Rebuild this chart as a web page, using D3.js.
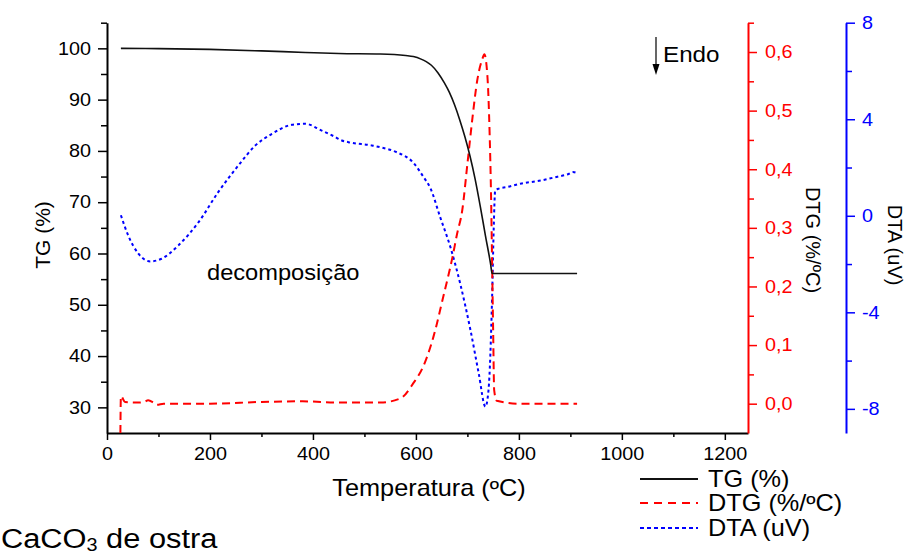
<!DOCTYPE html>
<html>
<head>
<meta charset="utf-8">
<script src="https://cdn.jsdelivr.net/npm/d3@7"></script>
<style>
  body { margin: 0; background: #fff; }
  svg { font-family: "Liberation Sans", Arial, sans-serif; }
</style>
</head>
<body>
<svg></svg>
<script>
const width = 909;
const height = 558;

// TG (%) vs temperature
const tgTemp = [27, 100, 200, 300, 385, 450, 531, 580, 595, 610, 620, 630, 643, 655, 665, 675, 685, 695, 705, 715, 725, 735, 745, 748, 800, 913];
const tgVal = [100.0, 99.95, 99.8, 99.5, 99.2, 99.0, 98.9, 98.6, 98.4, 97.9, 97.4, 96.7, 95.2, 93.3, 91.4, 89.0, 86.1, 82.8, 79.0, 74.5, 69.2, 63.5, 58.0, 56.1, 56.1, 56.1];

// DTG (%/ºC)
const dtgTemp = [26, 27, 35, 60, 72, 80, 90, 97, 110, 200, 300, 380, 450, 531, 570, 595, 614, 634, 653, 671, 680, 690, 700, 710, 719, 729, 733, 739, 743, 746, 748, 750, 752, 757, 800, 913];
const dtgVal = [-0.05, 0.013, 0.003, 0.002, 0.003, 0.006, 0.002, -0.002, 0.0, 0.0, 0.003, 0.004, 0.002, 0.002, 0.009, 0.035, 0.063, 0.114, 0.182, 0.25, 0.29, 0.33, 0.409, 0.489, 0.551, 0.588, 0.596, 0.557, 0.466, 0.352, 0.239, 0.125, 0.023, 0.005, 0.0, 0.0];

// DTA (uV)
const dtaTemp = [27, 41, 61, 84, 106, 139, 178, 216, 255, 288, 320, 359, 385, 417, 440, 456, 469, 515, 531, 563, 595, 615, 628, 647, 667, 686, 706, 722, 735, 741, 748, 751, 754, 760, 777, 803, 842, 875, 895, 905, 913];
const dtaVal = [0.02, -0.81, -1.57, -1.89, -1.78, -1.22, -0.26, 0.98, 2.08, 2.91, 3.39, 3.77, 3.81, 3.53, 3.3, 3.12, 3.05, 2.91, 2.84, 2.63, 2.2, 1.6, 1.15, -0.05, -1.3, -2.81, -4.74, -6.53, -7.91, -7.22, -3.36, -0.6, 1.05, 1.12, 1.19, 1.33, 1.46, 1.62, 1.72, 1.81, 1.77];

const xTicks = [0, 200, 400, 600, 800, 1000, 1200];
const xMinor = [100, 300, 500, 700, 900, 1100];
const tgTicks = [30, 40, 50, 60, 70, 80, 90, 100];
const tgMinor = [35, 45, 55, 65, 75, 85, 95, 105];
const dtgTicks = [0, 0.1, 0.2, 0.3, 0.4, 0.5, 0.6];
const dtgMinor = [0.05, 0.15, 0.25, 0.35, 0.45, 0.55, 0.65];
const dtaTicks = [-8, -4, 0, 4, 8];
const dtaMinor = [-6, -2, 2, 6];

const plotLeft = 107, plotRight = 748, plotTop = 22.7, plotBottom = 433;
const blueAxisX = 846;
const textStretch = 1.1; // the source picture is a bit wider than tall

const x = d3.scaleLinear().domain([0, 1245]).range([plotLeft, plotRight]);
const yTG = d3.scaleLinear().domain([25, 105]).range([plotBottom, plotTop]);
const yDTG = d3.scaleLinear().domain([-0.05, 0.65]).range([plotBottom, plotTop]);
const yDTA = d3.scaleLinear().domain([-9, 8]).range([plotBottom, plotTop]);

let svg = d3.select("svg")
    .attr("width", width)
    .attr("height", height)

svg.append("rect")
    .attr("width", width)
    .attr("height", height)
    .attr("fill", "#fff")

function stretch(sel) {
    sel.each(function () {
        const t = d3.select(this);
        const x0 = +t.attr("x") || 0;
        const y0 = +t.attr("y") || 0;
        t.attr("x", 0).attr("y", 0)
            .attr("transform", `translate(${x0},${y0}) scale(${textStretch},1)`);
    });
}

function styleAxis(g, color) {
    g.select(".domain").attr("stroke", color).attr("stroke-width", 2);
    g.selectAll(".tick line").attr("stroke", color).attr("stroke-width", 1.5);
    g.selectAll("text").attr("fill", color).style("font-size", "18px");
}

// bottom axis
let gx = svg.append("g")
    .attr("transform", `translate(0, ${plotBottom})`)
    .call(d3.axisBottom(x).tickValues(xTicks).tickSize(7).tickSizeOuter(0).tickFormat(d3.format("d")))
styleAxis(gx, "#000");
gx.selectAll("text").attr("y", 27).attr("dy", 0).call(stretch)
svg.append("g")
    .attr("transform", `translate(0, ${plotBottom})`)
    .call(d3.axisBottom(x).tickValues(xMinor).tickSize(4).tickFormat(""))
    .call(g => g.select(".domain").remove())
    .selectAll("line").attr("stroke", "#000").attr("stroke-width", 1.5)

// left TG axis
let gl = svg.append("g")
    .attr("transform", `translate(${plotLeft}, 0)`)
    .call(d3.axisLeft(yTG).tickValues(tgTicks).tickSize(9).tickSizeOuter(0).tickPadding(7))
styleAxis(gl, "#000");
gl.selectAll("text").call(stretch)
svg.append("g")
    .attr("transform", `translate(${plotLeft}, 0)`)
    .call(d3.axisLeft(yTG).tickValues(tgMinor).tickSize(6).tickFormat(""))
    .call(g => g.select(".domain").remove())
    .selectAll("line").attr("stroke", "#000").attr("stroke-width", 1.5)

// right DTG axis
let gr = svg.append("g")
    .attr("transform", `translate(${plotRight}, 0)`)
    .call(d3.axisRight(yDTG).tickValues(dtgTicks).tickSize(9).tickSizeOuter(0).tickPadding(8)
        .tickFormat(d => d3.format(".1f")(d).replace(".", ",")))
styleAxis(gr, "#ff0000");
gr.selectAll("text").call(stretch)
svg.append("g")
    .attr("transform", `translate(${plotRight}, 0)`)
    .call(d3.axisRight(yDTG).tickValues(dtgMinor).tickSize(6).tickFormat(""))
    .call(g => g.select(".domain").remove())
    .selectAll("line").attr("stroke", "#ff0000").attr("stroke-width", 1.5)

// right DTA axis
let gb = svg.append("g")
    .attr("transform", `translate(${blueAxisX}, 0)`)
    .call(d3.axisRight(yDTA).tickValues(dtaTicks).tickSize(9).tickSizeOuter(0).tickPadding(7)
        .tickFormat(d => String(d)))
styleAxis(gb, "#0000ff");
gb.selectAll("text").call(stretch)
svg.append("g")
    .attr("transform", `translate(${blueAxisX}, 0)`)
    .call(d3.axisRight(yDTA).tickValues(dtaMinor).tickSize(6).tickFormat(""))
    .call(g => g.select(".domain").remove())
    .selectAll("line").attr("stroke", "#0000ff").attr("stroke-width", 1.5)

// curves
const tgLine = d3.line().x(d => x(d[0])).y(d => yTG(d[1])).curve(d3.curveMonotoneX);
const dtgLine = d3.line().x(d => x(d[0])).y(d => yDTG(d[1])).curve(d3.curveMonotoneX);
const dtaLine = d3.line().x(d => x(d[0])).y(d => yDTA(d[1])).curve(d3.curveMonotoneX);

svg.append("path")
    .attr("d", dtaLine(d3.zip(dtaTemp, dtaVal)))
    .attr("fill", "none")
    .attr("stroke", "#0000ff")
    .attr("stroke-width", 2)
    .attr("stroke-dasharray", "3,3")

svg.append("path")
    .attr("d", dtgLine(d3.zip(dtgTemp, dtgVal)))
    .attr("fill", "none")
    .attr("stroke", "#ff0000")
    .attr("stroke-width", 2)
    .attr("stroke-dasharray", "8,5")

svg.append("path")
    .attr("d", tgLine(d3.zip(tgTemp, tgVal)))
    .attr("fill", "none")
    .attr("stroke", "#111")
    .attr("stroke-width", 1.6)

// axis titles
svg.append("text")
    .attr("transform", "translate(50, 235) rotate(-90)")
    .style("text-anchor", "middle")
    .style("font-size", "21px")
    .text("TG (%)")

svg.append("text")
    .attr("transform", "translate(806, 240) rotate(90)")
    .style("text-anchor", "middle")
    .style("font-size", "20px")
    .text("DTG (%/ºC)")

svg.append("text")
    .attr("transform", "translate(888, 245) rotate(90)")
    .style("text-anchor", "middle")
    .style("font-size", "20px")
    .text("DTA (uV)")

svg.append("text")
    .attr("x", 429)
    .attr("y", 496)
    .style("text-anchor", "middle")
    .style("font-size", "23px")
    .text("Temperatura (ºC)")
    .call(stretch)

svg.append("text")
    .attr("x", 207)
    .attr("y", 280)
    .style("font-size", "21.5px")
    .text("decomposição")
    .call(stretch)

// Endo arrow
svg.append("line")
    .attr("x1", 656).attr("y1", 37)
    .attr("x2", 656).attr("y2", 66)
    .attr("stroke", "#000")
    .attr("stroke-width", 1.2)
svg.append("path")
    .attr("d", "M652.5,64 L659.5,64 L656,75 Z")
    .attr("fill", "#000")
svg.append("text")
    .attr("x", 663)
    .attr("y", 62)
    .style("font-size", "22px")
    .text("Endo")
    .call(stretch)

// legend
const legendItems = [
    { label: "TG (%)", color: "#111", dash: null, y: 479 },
    { label: "DTG (%/ºC)", color: "#ff0000", dash: "8,6", y: 503 },
    { label: "DTA (uV)", color: "#0000ff", dash: "4,3", y: 528 }
];
let lg = svg.selectAll(".legend")
    .data(legendItems)
    .enter()
    .append("g")
    .classed("legend", true)
lg.append("line")
    .attr("x1", 640).attr("x2", 698)
    .attr("y1", d => d.y).attr("y2", d => d.y)
    .attr("stroke", d => d.color)
    .attr("stroke-width", 2)
    .attr("stroke-dasharray", d => d.dash)
lg.append("text")
    .attr("x", 708)
    .attr("y", d => d.y + 8)
    .style("font-size", "23px")
    .text(d => d.label)
    .call(stretch)

// sample caption
let cap = svg.append("text")
    .attr("x", 1)
    .attr("y", 548)
    .style("font-size", "28px")
cap.append("tspan").text("CaCO")
cap.append("tspan").attr("dy", 3).style("font-size", "18px").text("3")
cap.append("tspan").attr("dy", -3).text(" de ostra")
cap.call(stretch)
</script>
</body>
</html>
